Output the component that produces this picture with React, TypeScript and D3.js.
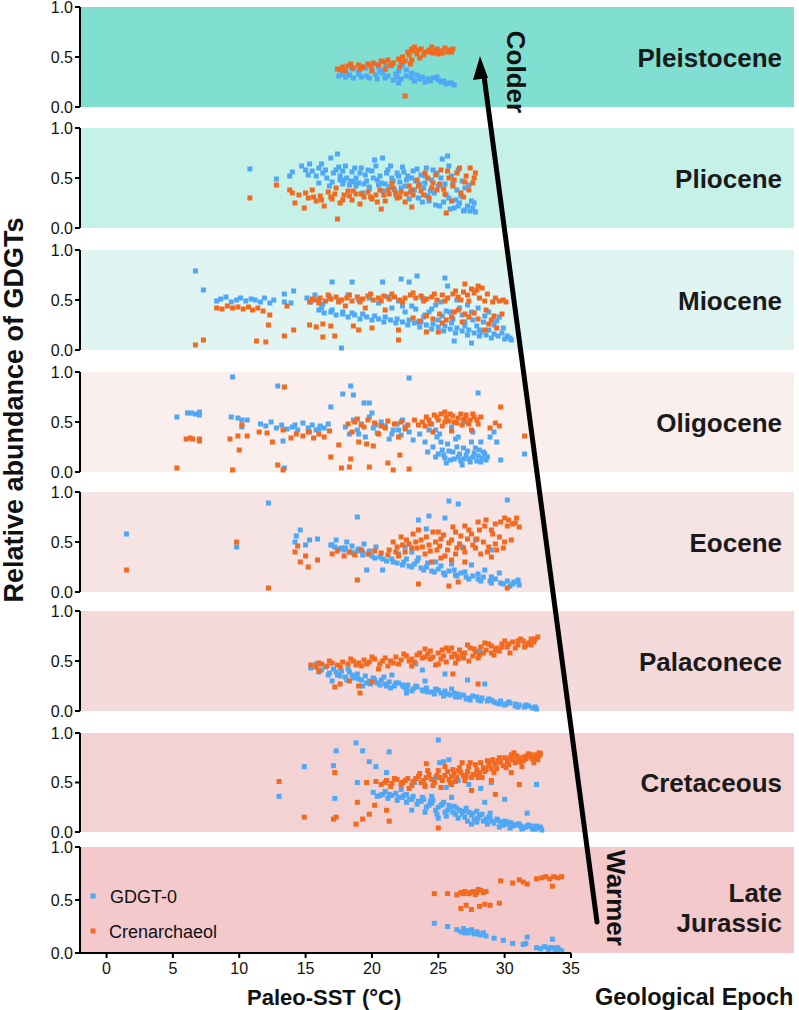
import * as d3 from 'd3';
import React from 'react';

type Pt = [number, number];

// epochs, top to bottom
const epochs = ['Pleistocene', 'Pliocene', 'Miocene', 'Oligocene', 'Eocene', 'Palaconece', 'Cretaceous', 'Late Jurassic'];
const epochColors = ['#80dfd0', '#c6f1e8', '#e0f5f2', '#faefec', '#f6e3e4', '#f5dadb', '#f3d2d4', '#f3c9cc'];

const xTicks = [0, 5, 10, 15, 20, 25, 30, 35];
const yTicks = [0, 0.5, 1];

// [Paleo-SST, relative abundance]
const pleistoceneGdgt0: Pt[] = [
  [18.0, .36], [18.5, .38], [19.0, .35], [19.5, .39], [20.0, .37], [20.5, .40], [21.0, .38], [21.5, .41], [22.0, .36], [22.3, .42], [21.8, .33], [20.8, .34],
  [17.5, .31], [18.0, .30], [18.6, .29], [19.2, .30], [19.8, .29], [20.4, .28], [21.0, .29], [21.6, .27], [22.2, .28],
  [22.6, .31], [23.0, .29], [23.4, .32], [23.8, .30], [24.2, .28], [24.6, .29], [25.0, .27], [25.4, .26], [25.8, .24], [26.2, .22], [24.0, .25], [23.2, .26], [22.0, .24],
  [17.8, .33], [18.3, .32], [19.0, .33], [19.6, .31], [20.3, .32], [21.2, .31], [21.9, .30], [19.3, .40], [20.2, .43], [21.1, .41], [22.6, .37], [23.0, .34],
  [23.6, .28], [24.4, .26], [25.2, .25], [25.6, .23], [26.0, .24], [24.9, .30], [20.6, .36],
];
const pleistoceneCren: Pt[] = [
  [17.4, .38], [17.8, .40], [18.2, .41], [18.6, .39], [19.0, .42], [19.3, .40], [19.7, .43], [20.1, .44], [20.5, .42], [20.9, .45], [21.2, .47], [21.6, .44],
  [22.0, .48], [22.3, .50], [22.5, .46], [22.8, .52], [23.1, .56], [23.4, .53], [23.7, .58], [24.0, .55], [24.3, .57], [24.6, .54], [24.9, .58], [25.2, .56],
  [25.5, .59], [25.8, .57], [26.1, .58], [23.2, .60], [24.5, .60], [22.1, .40], [21.0, .38], [22.5, .11], [18.0, .36], [20.0, .36], [23.0, .47], [25.0, .53],
  [17.6, .37], [18.4, .43], [19.1, .38], [19.9, .41], [20.7, .46], [21.4, .42], [22.2, .45], [22.7, .55], [23.0, .58], [23.5, .57], [23.9, .52], [24.4, .55],
  [24.8, .56], [25.3, .54], [25.7, .55], [26.0, .55], [22.9, .43], [23.6, .49],
];

const plioceneGdgt0: Pt[] = [
  [10.8, .59], [12.8, .49], [13.8, .52], [14.0, .56], [14.7, .62], [15.0, .58], [15.3, .64], [15.5, .57], [15.2, .53], [16.0, .60], [16.3, .55], [16.6, .50],
  [16.9, .70], [17.4, .74], [17.0, .46], [17.3, .58], [17.6, .52], [17.9, .48], [18.0, .62], [18.3, .43], [18.5, .56], [18.8, .50], [19.0, .45], [19.2, .60],
  [19.5, .53], [19.8, .41], [20.0, .57], [20.2, .68], [20.4, .48], [20.6, .52], [20.8, .70], [21.0, .44], [21.2, .58], [21.5, .50], [21.7, .38], [21.9, .55],
  [22.1, .46], [22.3, .61], [22.5, .42], [22.7, .52], [22.9, .36], [23.1, .57], [23.3, .47], [23.5, .30], [23.7, .53], [23.9, .40], [24.1, .60], [24.3, .27],
  [24.5, .48], [24.7, .35], [24.9, .55], [25.1, .22], [25.3, .69], [25.5, .44], [25.7, .72], [25.8, .30], [26.0, .52], [26.2, .20], [26.4, .38], [26.6, .25],
  [26.8, .47], [27.0, .18], [27.2, .22], [27.4, .17], [27.6, .20], [27.8, .16], [26.9, .17], [25.9, .19], [24.8, .23], [23.8, .26], [22.8, .29], [21.8, .33],
  [20.8, .37], [19.8, .39], [18.8, .42], [17.8, .44], [24.0, .45], [26.5, .58], [27.3, .43], [19.3, .35], [16.0, .45],
  [15.8, .52], [16.2, .64], [16.5, .58], [16.8, .42], [17.1, .55], [17.5, .61], [17.8, .57], [18.1, .50], [18.4, .47], [18.7, .60], [19.1, .55], [19.4, .44],
  [19.7, .58], [20.1, .50], [20.3, .62], [20.7, .45], [21.1, .55], [21.4, .62], [21.6, .47], [22.0, .52], [22.4, .56], [22.6, .48], [23.0, .50], [23.4, .59],
  [23.6, .44], [24.0, .52], [24.4, .37], [24.6, .58], [25.0, .42], [25.2, .50], [25.6, .33], [25.8, .62], [26.1, .45], [26.3, .28], [26.7, .32], [27.0, .40],
  [27.5, .27], [27.7, .25], [26.5, .22], [25.4, .26], [24.2, .32], [23.2, .38], [22.2, .40], [21.3, .41], [20.5, .43], [19.6, .47], [18.6, .46], [17.6, .48],
];
const plioceneCren: Pt[] = [
  [10.8, .30], [12.8, .43], [13.8, .38], [14.0, .35], [14.2, .25], [14.5, .33], [14.9, .20], [15.2, .30], [15.5, .38], [15.8, .27], [16.1, .32], [16.4, .22],
  [16.7, .36], [17.0, .29], [17.3, .40], [17.4, .09], [17.6, .25], [17.9, .33], [18.2, .37], [18.5, .28], [18.8, .34], [19.1, .24], [19.4, .31], [19.7, .36],
  [20.0, .29], [20.3, .33], [20.7, .19], [20.6, .38], [21.0, .27], [21.3, .34], [21.6, .40], [21.9, .30], [22.2, .36], [22.5, .26], [22.8, .42], [23.1, .33],
  [23.4, .48], [23.7, .37], [24.0, .55], [24.3, .30], [24.6, .45], [24.9, .38], [25.2, .58], [25.6, .15], [25.5, .34], [25.8, .50], [26.1, .42], [26.4, .55],
  [26.7, .35], [26.9, .31], [27.1, .52], [27.4, .60], [27.6, .45], [27.8, .55], [26.0, .27], [23.0, .21], [21.5, .45],
  [15.0, .35], [15.6, .31], [16.2, .28], [16.9, .31], [17.2, .34], [17.8, .28], [18.3, .32], [18.6, .37], [19.2, .34], [19.9, .31], [20.4, .26], [20.9, .33],
  [21.2, .38], [21.8, .35], [22.1, .31], [22.6, .34], [23.0, .38], [23.5, .42], [23.9, .33], [24.2, .50], [24.5, .40], [24.8, .53], [25.1, .44], [25.4, .39],
  [25.7, .57], [26.2, .48], [26.6, .60], [27.0, .46], [27.3, .38], [27.7, .50],
];

const mioceneGdgt0: Pt[] = [
  [6.7, .79], [7.3, .60], [8.3, .49], [8.6, .51], [9.0, .53], [9.4, .48], [9.8, .50], [10.1, .52], [10.5, .49], [10.9, .51], [11.2, .50], [11.6, .48],
  [11.9, .52], [12.3, .47], [12.6, .50], [13.4, .56], [13.9, .47], [14.1, .59], [13.4, .48],
  [15.1, .52], [15.4, .48], [15.7, .55], [16.0, .50], [16.3, .46], [17.0, .68], [18.5, .68], [20.8, .68], [22.2, .71], [22.8, .68], [23.4, .74], [25.5, .72],
  [25.7, .64], [16.8, .53], [17.5, .49], [18.2, .55], [19.0, .50], [19.8, .52], [20.5, .47], [21.2, .53], [22.0, .49], [23.0, .44], [23.8, .52], [24.5, .41],
  [25.2, .48], [25.9, .38], [26.4, .50], [26.8, .35], [27.2, .45], [27.6, .30], [28.0, .42], [28.4, .28], [28.8, .38], [29.2, .25], [29.6, .33], [24.0, .35],
  [25.0, .30], [26.0, .27], [27.0, .24], [28.1, .20], [23.5, .28], [22.5, .38], [21.5, .42],
  [16.0, .40], [16.4, .37], [16.9, .38], [17.3, .35], [17.8, .36], [18.2, .33], [18.7, .35], [19.1, .31], [19.6, .33], [20.0, .30], [20.5, .31], [20.9, .28],
  [21.4, .30], [21.8, .27], [22.3, .28], [22.7, .25], [23.2, .27], [23.6, .23], [24.1, .25], [24.5, .21], [25.0, .23], [25.4, .19], [25.9, .21], [26.3, .17],
  [26.8, .19], [27.2, .15], [27.7, .17], [28.1, .14], [28.6, .15], [29.0, .12], [29.5, .14], [30.0, .11], [30.4, .12],
  [17.7, .02], [26.2, .09], [27.5, .07],
  [16.2, .42], [17.0, .40], [17.8, .38], [18.5, .37], [19.3, .36], [20.2, .34], [21.0, .33], [21.9, .31], [22.8, .30], [23.7, .28], [24.6, .26], [25.5, .24],
  [26.4, .22], [27.3, .20], [28.2, .18], [29.2, .16], [30.2, .14], [30.5, .10], [29.8, .17], [28.8, .20], [27.9, .24], [27.0, .28], [26.1, .31], [25.3, .34],
  [24.3, .38], [23.3, .41], [22.3, .44], [24.8, .45], [26.6, .42], [27.5, .38], [28.5, .34], [29.4, .29], [29.9, .22], [25.6, .39], [23.9, .33],
];
const mioceneCren: Pt[] = [
  [6.7, .05], [7.3, .10], [8.3, .42], [8.7, .41], [9.1, .44], [9.5, .42], [9.9, .43], [10.3, .41], [10.7, .43], [11.0, .40], [11.4, .42], [11.8, .39],
  [12.2, .25], [12.3, .35], [11.3, .09], [12.0, .08], [13.4, .14], [13.6, .44], [14.1, .20],
  [15.3, .48], [15.7, .50], [16.1, .52], [16.5, .49], [16.9, .51], [17.3, .53], [17.7, .50], [18.1, .52], [18.5, .49], [18.9, .53], [19.3, .51], [19.7, .54],
  [20.1, .50], [20.5, .52], [20.9, .54], [21.3, .51], [21.7, .53], [22.1, .50], [22.5, .52], [22.9, .55], [23.3, .52], [23.7, .54], [24.1, .51], [24.5, .53],
  [24.9, .50], [25.3, .55], [25.7, .52], [26.1, .56], [26.5, .53], [26.9, .58], [27.0, .66], [27.5, .61], [27.9, .60], [28.3, .62], [28.1, .52], [28.5, .49],
  [29.1, .48], [29.6, .49], [30.1, .48], [27.3, .49],
  [23.1, .32], [23.6, .29], [24.1, .34], [25.1, .36], [25.6, .30], [26.2, .38], [26.8, .28], [27.3, .33], [27.7, .37], [28.6, .40], [29.0, .30], [29.4, .22],
  [29.8, .36], [21.0, .40], [19.5, .42], [18.0, .44],
  [15.3, .25], [15.8, .23], [16.3, .26], [16.3, .13], [16.9, .24], [17.2, .14], [18.6, .24], [19.0, .20], [20.0, .22], [22.0, .10], [22.0, .20], [24.1, .18],
  [25.0, .18], [28.5, .20],
  [15.5, .51], [16.0, .47], [16.7, .55], [17.5, .48], [18.3, .55], [19.1, .48], [19.9, .56], [20.7, .49], [21.5, .56], [22.3, .48], [23.1, .57], [23.9, .49],
  [24.7, .56], [25.5, .49], [26.3, .59], [26.7, .50], [27.2, .55], [27.7, .57], [28.0, .64], [28.7, .56], [29.3, .52], [29.9, .50], [26.0, .33], [26.5, .40],
  [27.0, .36], [28.0, .31], [28.8, .26], [29.2, .34], [24.6, .31], [25.3, .27],
];

const oligoceneGdgt0: Pt[] = [
  [5.3, .55], [6.1, .59], [6.4, .59], [6.7, .58], [7.0, .60], [7.0, .57], [9.5, .95], [9.4, .55], [9.9, .54], [10.2, .52], [10.2, .45], [10.6, .52],
  [11.6, .48], [12.0, .46], [12.4, .50], [12.9, .86], [13.3, .31], [13.4, .04], [12.8, .44], [13.2, .47], [13.6, .43], [14.0, .45], [14.4, .42], [14.8, .49],
  [15.2, .44], [15.5, .47], [15.8, .42], [16.1, .46], [16.4, .44], [16.7, .48], [16.9, .65], [17.8, .78], [18.4, .86], [18.6, .77], [19.4, .69], [19.8, .69],
  [22.8, .94], [28.0, .79],
  [18.0, .45], [18.3, .38], [18.6, .52], [18.9, .42], [19.2, .48], [19.5, .35], [19.8, .55], [20.1, .44], [20.4, .39], [20.7, .50], [21.0, .46], [21.3, .33],
  [21.6, .42], [21.9, .48], [22.2, .37], [22.5, .45], [22.8, .40], [23.1, .32], [20.0, .59],
  [23.6, .38], [24.0, .30], [24.3, .42], [24.6, .25], [24.9, .35], [25.0, .18], [25.3, .22], [25.5, .14], [25.7, .28], [25.9, .12], [26.1, .20], [26.3, .33],
  [26.5, .15], [26.7, .11], [26.9, .24], [27.1, .17], [27.3, .13], [27.5, .30], [27.7, .19], [27.9, .11], [28.1, .22], [28.3, .14], [28.5, .18], [28.6, .12],
  [26.0, .45], [27.0, .50], [24.5, .48], [28.9, .35], [29.2, .40], [29.4, .30], [29.7, .12], [31.5, .18], [25.6, .09], [26.8, .07],
  [24.2, .20], [24.8, .15], [25.2, .30], [25.4, .17], [25.8, .21], [26.2, .13], [26.4, .25], [26.6, .18], [26.9, .13], [27.2, .21], [27.4, .10], [27.6, .15],
  [27.8, .24], [28.0, .16], [28.2, .10], [28.4, .20], [28.7, .15], [25.1, .38], [26.5, .35], [27.6, .40], [28.2, .30], [24.8, .42], [21.5, .38], [19.0, .38],
  [20.3, .47], [22.3, .52], [22.0, .42], [16.0, .43], [14.2, .47], [15.3, .40],
];
const oligoceneCren: Pt[] = [
  [5.3, .04], [6.0, .33], [6.3, .34], [6.5, .33], [7.0, .31], [7.0, .33], [9.3, .33], [9.9, .36], [10.0, .22], [10.2, .47], [10.6, .36], [9.5, .02],
  [13.4, .85], [11.5, .40], [12.1, .39], [12.5, .30], [13.3, .42], [13.9, .34], [12.9, .07], [13.3, .02],
  [14.3, .38], [14.8, .36], [15.2, .40], [15.6, .34], [16.0, .38], [16.4, .35], [16.8, .41], [16.9, .15], [17.7, .04], [18.3, .05], [18.4, .13], [19.8, .05],
  [21.2, .09], [21.6, .02], [22.8, .03], [22.1, .17], [19.6, .28], [20.1, .26], [19.0, .30], [17.5, .27],
  [18.2, .48], [18.7, .50], [19.2, .47], [19.7, .52], [20.2, .49], [20.7, .46], [21.2, .51], [21.7, .48], [22.2, .50], [22.7, .47], [23.2, .52], [18.5, .40],
  [20.5, .38], [22.0, .35],
  [23.8, .50], [24.1, .55], [24.4, .48], [24.7, .57], [25.0, .52], [25.3, .46], [25.6, .55], [25.9, .58], [26.2, .50], [26.5, .54], [26.8, .47], [27.1, .57],
  [27.4, .52], [27.7, .55], [28.0, .48], [24.6, .40], [26.0, .41], [27.5, .42], [28.9, .44], [29.3, .49], [29.6, .46], [29.7, .65], [31.5, .36], [25.5, .60],
  [24.0, .46], [24.3, .52], [24.9, .55], [25.2, .58], [25.8, .51], [26.1, .56], [26.4, .49], [26.7, .58], [27.0, .53], [27.3, .48], [27.6, .58], [27.9, .52],
  [28.2, .55], [25.5, .50], [26.9, .52], [19.4, .45], [21.0, .44], [22.5, .43], [23.5, .47], [18.9, .53],
];

const eoceneGdgt0: Pt[] = [
  [1.5, .58], [9.8, .45], [12.2, .89], [14.2, .50], [14.3, .56], [14.6, .62], [15.0, .47], [15.3, .52], [15.9, .53], [16.9, .47], [17.3, .52], [17.7, .44],
  [18.1, .50], [18.5, .46], [18.9, .75], [19.0, .43], [19.4, .48], [19.8, .41], [20.3, .45], [19.6, .22], [20.8, .22], [23.5, .72], [24.3, .76], [25.5, .74],
  [25.8, .91], [26.5, .88], [30.2, .92], [24.1, .63],
  [17.0, .47], [17.5, .43], [18.0, .44], [18.4, .40], [18.9, .41], [19.3, .37], [19.8, .38], [20.2, .34], [20.6, .35], [21.1, .31], [21.5, .33], [21.9, .29],
  [22.4, .30], [22.8, .26], [23.2, .28], [23.7, .24], [24.1, .25], [24.5, .21], [25.0, .23], [25.4, .19], [25.8, .21], [26.3, .17], [26.7, .19], [27.1, .15],
  [27.6, .16], [28.0, .13], [28.4, .15], [28.9, .11], [29.3, .13], [29.7, .09], [30.2, .11], [30.6, .08], [31.0, .10], [31.1, .07],
  [22.0, .38], [23.5, .34], [24.8, .30], [26.0, .28], [27.5, .27], [28.5, .22], [29.6, .19], [26.8, .45], [27.8, .52], [29.0, .42], [22.5, .45], [23.0, .40],
  [17.2, .45], [17.9, .42], [18.6, .39], [19.3, .40], [20.0, .36], [20.8, .33], [21.6, .30], [22.3, .27], [23.0, .25], [23.9, .22], [24.7, .20], [25.5, .17],
  [26.4, .16], [27.3, .13], [28.2, .11], [29.0, .09], [29.9, .08], [30.7, .10], [31.0, .12], [30.4, .06], [25.2, .26], [26.2, .22], [27.0, .20], [28.0, .18],
  [29.0, .15], [24.2, .29], [23.4, .31], [22.6, .33],
];
const eoceneCren: Pt[] = [
  [1.5, .22], [9.8, .50], [12.2, .04], [14.2, .40], [14.4, .46], [14.6, .30], [15.0, .36], [15.2, .25], [15.9, .32], [17.0, .38], [17.4, .41], [17.9, .36],
  [18.3, .40], [18.9, .12], [18.7, .37], [19.2, .42], [19.7, .38], [20.2, .41], [20.7, .39], [21.2, .37],
  [21.3, .42], [21.6, .50], [21.9, .45], [22.2, .55], [22.5, .40], [22.8, .48], [23.1, .58], [23.5, .08], [23.4, .44], [23.7, .52], [24.0, .38], [24.3, .47],
  [24.6, .60], [24.9, .42], [25.2, .53], [25.5, .36], [25.8, .06], [25.8, .49], [26.1, .65], [26.5, .10], [26.4, .44], [26.7, .56], [27.0, .40], [27.3, .62],
  [27.6, .47], [27.9, .53], [28.2, .38], [28.5, .66], [28.8, .45], [29.1, .58], [29.4, .42], [29.7, .70], [30.0, .50], [30.2, .04], [30.3, .72], [30.6, .68],
  [30.9, .74], [31.1, .65], [28.0, .70], [29.0, .35], [26.0, .32], [24.5, .30], [22.0, .36], [27.0, .30], [25.0, .60], [23.5, .62],
  [21.8, .40], [22.3, .47], [22.6, .52], [23.0, .44], [23.3, .50], [23.8, .45], [24.1, .55], [24.4, .41], [24.8, .50], [25.1, .46], [25.4, .57], [25.7, .42],
  [26.0, .52], [26.3, .60], [26.6, .48], [26.9, .44], [27.2, .53], [27.5, .58], [27.8, .44], [28.1, .62], [28.4, .50], [28.7, .40], [29.0, .62], [29.3, .48],
  [29.6, .55], [29.9, .44], [30.2, .66], [30.5, .52], [30.8, .69], [28.6, .72], [29.3, .68], [30.0, .74], [27.0, .66], [26.3, .38], [25.2, .34],
];

const palaconeceGdgt0: Pt[] = [
  [15.4, .43], [15.8, .47], [16.2, .41], [16.5, .44], [16.8, .38], [17.1, .42], [17.4, .36], [17.7, .40], [18.0, .34], [18.3, .39], [18.6, .33], [18.9, .37],
  [19.2, .31], [19.5, .35], [19.8, .30], [20.1, .33], [20.4, .28], [20.7, .31], [21.0, .27], [21.3, .29], [21.7, .25], [22.0, .28], [22.4, .24], [22.7, .26],
  [23.1, .22], [23.4, .24], [23.8, .21], [24.1, .23], [24.5, .19], [24.8, .22], [25.2, .18], [25.5, .20], [25.9, .16], [26.2, .18], [26.6, .14], [26.9, .16],
  [27.3, .13], [27.6, .15], [28.0, .11], [28.3, .13], [28.7, .10], [29.0, .11], [29.4, .08], [29.7, .10], [30.1, .07], [30.4, .08], [30.8, .05], [31.1, .06],
  [31.5, .04], [31.8, .05], [32.1, .03], [32.4, .02],
  [23.3, .47], [23.8, .41], [25.5, .37], [28.1, .60], [27.2, .31], [28.5, .27], [22.6, .18], [19.3, .25], [17.0, .30], [21.5, .36], [24.0, .30],
  [16.0, .39], [16.7, .36], [17.3, .39], [18.1, .31], [18.8, .34], [19.6, .28], [20.2, .31], [21.1, .25], [21.8, .28], [22.6, .22], [23.3, .25], [24.2, .19],
  [25.0, .21], [25.7, .17], [26.5, .17], [27.1, .12], [27.9, .14], [28.8, .12], [29.6, .07], [30.3, .09], [31.0, .04], [31.6, .06], [32.3, .04], [20.9, .34],
  [18.2, .42], [26.0, .22],
  [17.6, .35], [18.5, .36], [19.0, .32], [19.9, .27], [20.6, .26], [21.4, .23], [22.3, .26], [23.0, .20], [23.9, .20], [24.7, .17], [25.4, .15], [26.3, .14],
  [27.4, .11], [28.2, .10], [29.2, .09], [30.0, .06], [30.8, .07],
];
const palaconeceCren: Pt[] = [
  [15.4, .46], [15.8, .44], [16.2, .47], [16.6, .45], [17.0, .48], [17.4, .46], [17.8, .49], [18.2, .47], [18.6, .50], [19.0, .48], [19.4, .51], [19.8, .49],
  [20.2, .52], [20.6, .47], [21.0, .53], [21.4, .50], [21.8, .54], [22.2, .51], [22.6, .55], [23.0, .52], [23.4, .56], [23.8, .53], [24.2, .57], [24.6, .54],
  [25.0, .58], [25.4, .55], [25.8, .60], [26.2, .57], [26.6, .61], [27.0, .58], [27.4, .63], [27.8, .59], [28.2, .64], [28.6, .61], [29.0, .65], [29.4, .63],
  [29.8, .67], [30.2, .64], [30.6, .69], [31.0, .66], [31.4, .70], [31.8, .68], [32.0, .72], [32.5, .74],
  [24.8, .46], [25.6, .49], [26.5, .52], [27.3, .50], [28.0, .53], [29.2, .56], [30.4, .58], [23.0, .45], [24.0, .62], [20.5, .42],
  [17.6, .27], [18.3, .30], [19.0, .25], [20.0, .29], [19.1, .18], [28.0, .27], [26.1, .37], [16.0, .40], [17.2, .24],
  [16.0, .48], [16.8, .50], [17.6, .44], [18.4, .52], [19.2, .45], [20.0, .54], [20.8, .50], [21.6, .48], [22.4, .57], [23.2, .49], [24.0, .54], [24.4, .60],
  [25.2, .52], [25.6, .63], [26.0, .54], [26.8, .57], [27.2, .66], [27.6, .55], [28.4, .58], [28.8, .67], [29.6, .60], [30.0, .70], [30.8, .63], [31.2, .72],
  [31.6, .66], [32.2, .69], [21.2, .45], [22.0, .47], [26.3, .48], [29.0, .58],
  [22.8, .50], [23.6, .58], [24.4, .52], [25.0, .47], [25.3, .61], [26.0, .63], [26.4, .55], [26.9, .53], [27.7, .62], [28.1, .56], [28.5, .68], [29.3, .61],
  [29.8, .64], [30.3, .67], [31.0, .70], [31.5, .64], [32.0, .66], [32.3, .72], [19.6, .47], [18.8, .46],
];

const cretaceousGdgt0: Pt[] = [
  [13.0, .36], [14.9, .66], [17.3, .82], [17.1, .67], [17.2, .34], [18.8, .90], [19.3, .82], [21.3, .81], [19.8, .71], [20.3, .66], [18.9, .50], [21.1, .60],
  [25.0, .93], [25.1, .70], [25.4, .71], [25.8, .73],
  [20.1, .40], [20.4, .36], [20.8, .38], [21.2, .34], [21.5, .37], [21.9, .32], [22.3, .35], [22.6, .30], [23.0, .33], [23.4, .28], [23.7, .31], [24.1, .25],
  [24.5, .29], [24.8, .22], [25.2, .27], [25.5, .20], [25.9, .25], [26.3, .18], [26.6, .22], [27.0, .15], [27.3, .20], [27.7, .13], [28.1, .17], [28.4, .11],
  [28.8, .15], [29.2, .09], [29.5, .12], [29.9, .07], [30.3, .10], [30.6, .06], [31.0, .08], [31.4, .04], [31.7, .06], [32.1, .03], [32.5, .04], [32.8, .02],
  [22.2, .43], [23.2, .50], [24.0, .47], [24.8, .55], [25.6, .45], [26.5, .52], [27.3, .48], [28.2, .44], [29.0, .50], [30.0, .33], [32.4, .48], [31.7, .19],
  [26.0, .35], [24.5, .36], [28.5, .30], [23.0, .22], [27.5, .08], [25.0, .14],
  [20.6, .37], [21.3, .38], [22.0, .35], [22.8, .33], [23.5, .31], [24.3, .27], [25.0, .25], [25.7, .22], [26.1, .20], [26.8, .18], [27.5, .17], [28.0, .14],
  [28.6, .13], [29.0, .11], [29.7, .10], [30.1, .08], [30.8, .07], [31.2, .06], [31.6, .05], [32.0, .06], [32.3, .03], [32.7, .05], [24.6, .32], [25.4, .30],
  [26.2, .26], [27.1, .24], [27.9, .21], [28.9, .19], [23.8, .35], [22.6, .38],
  [21.0, .41], [21.8, .39], [22.4, .37], [23.1, .36], [23.9, .33], [24.4, .31], [25.3, .28], [25.8, .27], [26.4, .24], [26.9, .21], [27.6, .19], [28.3, .18],
  [28.9, .14], [29.4, .13], [30.0, .11], [30.5, .09], [31.1, .08], [31.8, .07], [32.4, .06], [24.0, .20], [24.9, .18], [25.6, .16], [26.5, .14], [27.2, .11],
  [27.9, .10], [28.7, .08], [29.6, .05], [30.4, .04], [31.3, .03],
];
const cretaceousCren: Pt[] = [
  [13.0, .51], [14.9, .15], [17.2, .60], [17.1, .13], [17.3, .15], [19.6, .50], [18.9, .30], [19.3, .13], [18.8, .08], [19.8, .18], [20.2, .27], [21.1, .22],
  [21.3, .11], [24.1, .69], [25.0, .04],
  [20.3, .51], [20.7, .48], [21.1, .52], [21.5, .49], [21.9, .53], [22.3, .50], [22.7, .54], [23.1, .51], [23.5, .56], [23.9, .52], [24.3, .58], [24.7, .50],
  [25.0, .62], [25.2, .45], [25.5, .57], [25.8, .53], [26.1, .63], [26.4, .55], [26.7, .60], [27.0, .52], [27.3, .66], [27.6, .58], [27.9, .63], [28.2, .70],
  [28.5, .61], [28.8, .67], [29.1, .73], [29.4, .64], [29.7, .70], [30.0, .75], [30.3, .68], [30.6, .73], [30.9, .77], [31.2, .71], [31.5, .76], [31.8, .79],
  [32.1, .74], [32.4, .78], [32.6, .77],
  [24.0, .46], [26.0, .48], [27.5, .42], [28.0, .55], [29.3, .38], [29.0, .52], [31.1, .48], [30.5, .60], [22.8, .44], [26.8, .70], [25.5, .66],
  [21.0, .50], [21.7, .54], [22.5, .52], [23.3, .54], [23.7, .50], [24.1, .55], [24.5, .53], [24.9, .57], [25.3, .52], [25.7, .61], [26.0, .56], [26.3, .51],
  [26.6, .65], [26.9, .57], [27.2, .61], [27.5, .55], [27.8, .68], [28.1, .60], [28.4, .65], [28.7, .72], [29.0, .64], [29.3, .69], [29.6, .75], [29.9, .67],
  [30.2, .72], [30.5, .78], [30.8, .70], [31.1, .75], [31.4, .72], [31.7, .77], [32.0, .78], [32.3, .75], [32.6, .80], [32.2, .70], [31.3, .66], [28.3, .55],
  [21.4, .46], [22.2, .48], [23.0, .47], [23.6, .59], [24.2, .62], [24.6, .47], [25.1, .55], [25.9, .50], [26.2, .59], [26.5, .62], [27.1, .56], [27.4, .70],
  [27.9, .58], [28.6, .63], [28.9, .70], [29.2, .60], [29.5, .72], [30.1, .65], [30.4, .75], [30.7, .80], [31.0, .72], [31.6, .74], [31.9, .76], [32.5, .73],
  [32.7, .79],
];

const lateJurassicGdgt0: Pt[] = [
  [24.7, .28], [25.7, .25], [26.4, .22], [26.7, .20], [26.9, .23], [27.1, .21], [27.3, .19], [27.5, .22], [27.7, .18], [27.9, .20], [28.2, .17], [28.4, .19],
  [28.6, .16], [29.2, .14], [29.9, .12], [30.6, .09], [31.4, .08], [31.6, .09], [31.7, .15], [32.4, .05], [32.7, .04], [33.0, .06], [33.3, .03], [33.6, .05],
  [33.6, .13], [33.9, .04], [34.1, .03], [34.3, .02], [27.0, .19], [27.4, .21], [28.0, .18], [33.8, .03], [34.0, .05], [33.4, .05],
];
const lateJurassicCren: Pt[] = [
  [24.7, .56], [25.7, .56], [26.4, .55], [26.7, .57], [27.0, .58], [27.3, .56], [27.6, .58], [27.9, .57], [28.2, .59], [28.6, .58], [26.7, .42], [27.5, .41],
  [27.1, .45], [28.1, .44], [28.5, .46], [28.9, .45], [29.6, .47], [29.7, .68], [30.6, .66], [31.1, .69], [31.4, .67], [31.7, .65], [32.4, .70], [32.8, .71],
  [33.1, .72], [33.4, .70], [33.7, .72], [34.0, .71], [34.3, .72], [33.6, .63], [27.4, .57], [27.8, .55], [28.4, .57], [28.0, .60], [26.9, .56],
];

const gdgt0 = [pleistoceneGdgt0, plioceneGdgt0, mioceneGdgt0, oligoceneGdgt0, eoceneGdgt0, palaconeceGdgt0, cretaceousGdgt0, lateJurassicGdgt0];
const crenarchaeol = [pleistoceneCren, plioceneCren, mioceneCren, oligoceneCren, eoceneCren, palaconeceCren, cretaceousCren, lateJurassicCren];

const BLUE = '#4fa8f5';
const ORANGE = '#f26a1f';
const FONT = '"Liberation Sans", Arial, Helvetica, sans-serif';

// panel rows in pixels: [top, bottom]
const rows: [number, number][] = [[7, 107], [128, 228], [250, 350], [372, 472], [492, 592], [611, 711], [733, 832], [847, 953]];

const App = () => {
  const width = 799;
  const height = 1010;
  const x = d3.scaleLinear().domain([-2, 35]).range([80, 571]);
  const bgRight = 794;
  const ms = 5;

  const panels = epochs.map((name, i) => {
    const [top, bottom] = rows[i];
    const y = d3.scaleLinear().domain([0, 1]).range([bottom, top]);
    const mid = (top + bottom) / 2;
    const words = name === 'Late Jurassic' ? ['Late', 'Jurassic'] : [name];
    return (
      <g key={name}>
        <rect x={80} y={y(1)} width={bgRight - 80} height={y(0) - y(1)} fill={epochColors[i]} />
        {gdgt0[i].map((d, j) => (
          <rect key={'b' + j} x={x(d[0]) - ms / 2} y={y(d[1]) - ms / 2} width={ms} height={ms} fill={BLUE} />
        ))}
        {crenarchaeol[i].map((d, j) => (
          <rect key={'o' + j} x={x(d[0]) - ms / 2} y={y(d[1]) - ms / 2} width={ms} height={ms} fill={ORANGE} />
        ))}
        <line x1={80} x2={80} y1={y(1)} y2={y(0)} stroke="#000" strokeWidth={2} />
        {yTicks.map((t) => (
          <g key={t}>
            <line x1={75} x2={80} y1={y(t)} y2={y(t)} stroke="#000" strokeWidth={2} />
            <text x={73} y={y(t)} dy="0.36em" textAnchor="end" fontSize={16} fontFamily={FONT} fill="#111">
              {d3.format('.1f')(t)}
            </text>
          </g>
        ))}
        {words.length === 1 ? (
          <text x={782} y={mid + 9.5} textAnchor="end" fontSize={26} fontWeight="bold" fontFamily={FONT} fill="#1a1a1a">
            {name}
          </text>
        ) : (
          <text textAnchor="end" fontSize={26} fontWeight="bold" fontFamily={FONT} fill="#1a1a1a">
            <tspan x={782} y={902}>{words[0]}</tspan>
            <tspan x={782} y={932}>{words[1]}</tspan>
          </text>
        )}
      </g>
    );
  });

  const axisY = rows[7][1];

  return (
    <svg width={width} height={height} style={{ position: 'absolute', left: 0, top: 0 }}>
      <rect width={width} height={height} fill="#fff" />
      {panels}
      {/* x axis */}
      <line x1={79} x2={x(35)} y1={axisY} y2={axisY} stroke="#000" strokeWidth={2} />
      {xTicks.map((t) => (
        <g key={t}>
          <line x1={x(t)} x2={x(t)} y1={axisY} y2={axisY + 5} stroke="#000" strokeWidth={2} />
          <text x={x(t)} y={axisY + 21} textAnchor="middle" fontSize={16} fontFamily={FONT} fill="#111">
            {t}
          </text>
        </g>
      ))}
      {/* legend */}
      <rect x={93 - ms / 2} y={896 - ms / 2} width={ms} height={ms} fill={BLUE} />
      <text x={110} y={903} fontSize={18} fontFamily={FONT} fill="#111">GDGT-0</text>
      <rect x={93 - ms / 2} y={931 - ms / 2} width={ms} height={ms} fill={ORANGE} />
      <text x={109} y={938} fontSize={18} fontFamily={FONT} fill="#111">Crenarchaeol</text>
      {/* arrow */}
      <line x1={597} y1={922} x2={484} y2={76} stroke="#000" strokeWidth={5} strokeLinecap="round" />
      <polygon points="480,56 473,80 488,78" fill="#000" />
      <text transform="translate(507,72) rotate(90)" textAnchor="middle" fontSize={26} fontWeight="bold" fontFamily={FONT} fill="#111">
        Colder
      </text>
      <text transform="translate(607,898) rotate(90)" textAnchor="middle" fontSize={26} fontWeight="bold" fontFamily={FONT} fill="#111">
        Warmer
      </text>
      {/* axis titles */}
      <text transform="translate(23,410) rotate(-90)" textAnchor="middle" fontSize={27} fontWeight="bold" fontFamily={FONT} fill="#111">
        Relative abundance of GDGTs
      </text>
      <text x={247} y={1005} fontSize={22} fontWeight="bold" fontFamily={FONT} fill="#111">
        Paleo-SST (°C)
      </text>
      <text x={595} y={1005} fontSize={23.5} fontWeight="bold" fontFamily={FONT} fill="#111">
        Geological Epoch
      </text>
    </svg>
  );
};

export default App;
